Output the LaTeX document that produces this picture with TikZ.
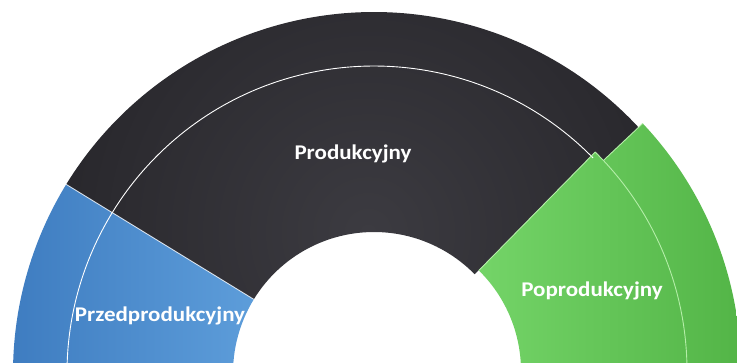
\documentclass[tikz,border=0pt]{standalone}
\usepackage{fontspec}
\setmainfont{Carlito}
\definecolor{blkin}{HTML}{3C3B41}
\definecolor{blkout}{HTML}{1B1A1E}
\definecolor{bluel}{HTML}{3E7CC0}
\definecolor{bluer}{HTML}{5D9DDA}
\definecolor{greenl}{HTML}{74D468}
\definecolor{greenr}{HTML}{52B446}
\definecolor{greenline}{HTML}{B4EEA8}
\tikzset{
  lbl/.style={text=white, font=\bfseries\fontsize{21}{22}\selectfont, inner sep=0pt},
  ringline/.style={draw=white, line width=0.9bp},
  edgeline/.style={draw=white, draw opacity=0.75, line width=0.9bp},
  gedge/.style={draw=greenline, line width=0.9bp}
}
\begin{document}
\begin{tikzpicture}[x=1bp,y=1bp]
\useasboundingbox (0,0) rectangle (737,362);
\clip (0,0) rectangle (737,362);
\coordinate (C) at (374,-11);
\coordinate (G) at (380,-9);
\def\rin{141}
\def\rmid{307}
\def\rout{361}
% black (production) segment
\begin{scope}
  \clip[shift={(C)}] (44.5:\rin) -- (44.5:\rmid) -- (42.3:\rmid) -- (42.3:\rout)
     arc[start angle=42.3, end angle=148.5, radius=\rout] -- (148.5:\rin)
     arc[start angle=148.5, end angle=44.5, radius=\rin] -- cycle;
  \shade[inner color=blkin, outer color=blkout] (368,130) circle (520);
\end{scope}
% blue (pre-production) segment
\shade[left color=bluel, right color=bluer, shift={(C)}]
  (148.5:\rin) -- (148.5:\rout) arc[start angle=148.5, end angle=185, radius=\rout]
  -- (185:\rin) arc[start angle=185, end angle=148.5, radius=\rin] -- cycle;
% green (post-production) segment
\shade[left color=greenl, right color=greenr, shift={(G)}]
  (-5:\rin) -- (-5:\rmid) -- (-5:\rout) arc[start angle=-5, end angle=43.3, radius=\rout]
  -- (43.3:\rmid) -- (45.5:\rmid) -- (45.5:\rin)
  arc[start angle=45.5, end angle=-5, radius=\rin] -- cycle;
% ring separator lines
\draw[ringline, shift={(C)}] (44.5:\rmid) arc[start angle=44.5, end angle=190, radius=\rmid];
\draw[gedge, shift={(G)}] (-5:\rmid) arc[start angle=-5, end angle=45.5, radius=\rmid];
% segment edges
\draw[edgeline, shift={(C)}] (148.5:\rin) -- (148.5:\rout);
\draw[gedge, shift={(G)}] (45.5:\rin) -- (45.5:\rmid);
\draw[gedge, shift={(G)}] (43.3:\rmid) -- (43.3:\rout);
% labels
\node[lbl] (prod) at (353,208) {\scalebox{1.1}[1]{Produkcyjny}};
\node[lbl] (pre) at (160,46) {\scalebox{1.1}[1]{Przedprodukcyjny}};
\node[lbl] (post) at (592,71) {\scalebox{1.1}[1]{Poprodukcyjny}};
\end{tikzpicture}
\end{document}
